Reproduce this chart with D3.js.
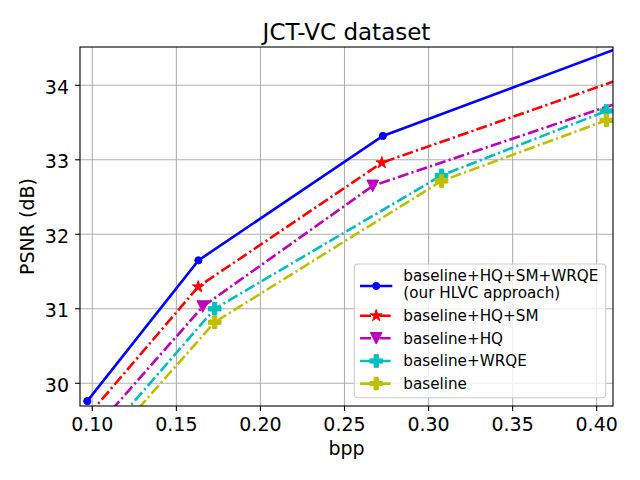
<!DOCTYPE html>
<html><head><meta charset="utf-8">
<script src="https://cdn.jsdelivr.net/npm/d3@7/dist/d3.min.js"></script>
<style>body{margin:0;background:#fff}svg{display:block;font-family:"DejaVu Sans",sans-serif}</style>
</head><body><svg id="c" width="640" height="480"></svg>
<script>
const xTicks = [0.10, 0.15, 0.20, 0.25, 0.30, 0.35, 0.40];
const yTicks = [30, 31, 32, 33, 34];
const seriesNames = ["baseline+HQ+SM+WRQE\n(our HLVC approach)", "baseline+HQ+SM", "baseline+HQ", "baseline+WRQE", "baseline"];
const seriesColors = ["#0000ff", "#ff0000", "#bf00bf", "#00bfbf", "#bfbf00"];
const seriesMarkers = ["circle", "star", "tridown", "plus", "plus"];
const bppHLVC = [0.0970, 0.1631, 0.2728, 0.425];
const psnrHLVC = [29.76, 31.65, 33.32, 34.60];
const bppHQSM = [0.098, 0.163, 0.2722, 0.420];
const psnrHQSM = [29.58, 31.295, 32.96, 34.13];
const bppHQ = [0.104, 0.1657, 0.2668, 0.415];
const psnrHQ = [29.45, 31.03, 32.65, 33.78];
const bppWRQE = [0.110, 0.1728, 0.3077, 0.4058];
const psnrWRQE = [29.37, 31.00, 32.79, 33.655];
const bppBase = [0.112, 0.1728, 0.3077, 0.4058];
const psnrBase = [29.27, 30.82, 32.715, 33.53];

const seriesX = [bppHLVC, bppHQSM, bppHQ, bppWRQE, bppBase];
const seriesY = [psnrHLVC, psnrHQSM, psnrHQ, psnrWRQE, psnrBase];

const L = 80, R = 613, T = 47, B = 406;
const svg = d3.select("#c");
const x = d3.scaleLinear().domain([0.09268, 0.4097]).range([L, R]);
const y = d3.scaleLinear().domain([29.695, 34.514]).range([B, T]);

svg.append("defs").append("clipPath").attr("id", "clip")
  .append("rect").attr("x", L).attr("y", T).attr("width", R - L).attr("height", B - T);

// grid
const g = svg.append("g");
g.selectAll(".gx").data(xTicks).join("line")
  .attr("x1", d => x(d)).attr("x2", d => x(d)).attr("y1", T).attr("y2", B)
  .attr("stroke", "#b0b0b0").attr("stroke-width", 1.1);
g.selectAll(".gy").data(yTicks).join("line")
  .attr("y1", d => y(d)).attr("y2", d => y(d)).attr("x1", L).attr("x2", R)
  .attr("stroke", "#b0b0b0").attr("stroke-width", 1.1);

function markerPath(type, s) {
  const p = d3.path();
  if (type === "circle") {
    p.arc(0, 0, s, 0, 2 * Math.PI);
  } else if (type === "star") {
    const ro = s, ri = s * 0.381966;
    for (let i = 0; i < 10; i++) {
      const r = i % 2 === 0 ? ro : ri;
      const a = -Math.PI / 2 + i * Math.PI / 5;
      const px = r * Math.cos(a), py = r * Math.sin(a);
      if (i === 0) p.moveTo(px, py); else p.lineTo(px, py);
    }
    p.closePath();
  } else if (type === "tridown") {
    p.moveTo(0, s); p.lineTo(-s, -s); p.lineTo(s, -s); p.closePath();
  } else if (type === "plus") {
    const a = s / 3;
    p.moveTo(-a, -s); p.lineTo(a, -s); p.lineTo(a, -a); p.lineTo(s, -a); p.lineTo(s, a);
    p.lineTo(a, a); p.lineTo(a, s); p.lineTo(-a, s); p.lineTo(-a, a); p.lineTo(-s, a);
    p.lineTo(-s, -a); p.lineTo(-a, -a); p.closePath();
  }
  return p.toString();
}
const markerSize = { circle: 3.6, star: 6.2, tridown: 5.8, plus: 6.3 };
const dash = "11,3.2,2.2,3.2";

const plot = svg.append("g").attr("clip-path", "url(#clip)");
const line = d3.line().x(d => x(d[0])).y(d => y(d[1]));
seriesX.forEach((xs, i) => {
  const pts = xs.map((v, j) => [v, seriesY[i][j]]);
  plot.append("path").datum(pts).attr("d", line)
    .attr("fill", "none").attr("stroke", seriesColors[i]).attr("stroke-width", 2.6)
    .attr("stroke-dasharray", i === 0 ? null : dash);
  plot.selectAll(null).data(pts).join("path")
    .attr("transform", d => `translate(${x(d[0])},${y(d[1])})`)
    .attr("d", markerPath(seriesMarkers[i], markerSize[seriesMarkers[i]]))
    .attr("fill", seriesColors[i]).attr("stroke", seriesColors[i]).attr("stroke-width", 1);
});

// spines
svg.append("rect").attr("x", L).attr("y", T).attr("width", R - L).attr("height", B - T)
  .attr("fill", "none").attr("stroke", "#000").attr("stroke-width", 1.1);

// ticks
const ax = svg.append("g");
ax.selectAll(".tx").data(xTicks).join("line")
  .attr("x1", d => x(d)).attr("x2", d => x(d)).attr("y1", B).attr("y2", B + 4.9)
  .attr("stroke", "#000").attr("stroke-width", 1.1);
ax.selectAll(".lx").data(xTicks).join("text")
  .attr("x", d => x(d)).attr("y", 430.7).attr("text-anchor", "middle")
  .attr("font-size", 19).text(d => d3.format(".2f")(d));
ax.selectAll(".ty").data(yTicks).join("line")
  .attr("y1", d => y(d)).attr("y2", d => y(d)).attr("x1", L - 4.9).attr("x2", L)
  .attr("stroke", "#000").attr("stroke-width", 1.1);
ax.selectAll(".ly").data(yTicks).join("text")
  .attr("x", 69).attr("y", d => y(d) + 8.4).attr("text-anchor", "end")
  .attr("font-size", 19).text(d => d);

svg.append("text").attr("x", (L + R) / 2).attr("y", 455).attr("text-anchor", "middle")
  .attr("font-size", 19).text("bpp");
svg.append("text").attr("transform", `translate(33.5,${(T + B) / 2}) rotate(-90)`)
  .attr("text-anchor", "middle").attr("font-size", 19).text("PSNR (dB)");
svg.append("text").attr("x", (L + R) / 2).attr("y", 39.5).attr("text-anchor", "middle")
  .attr("font-size", 23).text("JCT-VC dataset");

// legend
const lg = svg.append("g");
lg.append("rect").attr("x", 354.3).attr("y", 264).attr("width", 251.4).attr("height", 133.7)
  .attr("rx", 3.5).attr("fill", "#fff").attr("fill-opacity", 0.8)
  .attr("stroke", "#cccccc").attr("stroke-width", 1.1);
const rowHandleY = [286, 315.7, 338.3, 361, 383.6];
const rowTextY = [280.7, 321, 343.7, 366.2, 388.8];
seriesNames.forEach((name, i) => {
  lg.append("line").attr("x1", 360).attr("x2", 392.3).attr("y1", rowHandleY[i]).attr("y2", rowHandleY[i])
    .attr("stroke", seriesColors[i]).attr("stroke-width", 2.6)
    .attr("stroke-dasharray", i === 0 ? null : dash);
  lg.append("path").attr("transform", `translate(376.2,${rowHandleY[i]})`)
    .attr("d", markerPath(seriesMarkers[i], markerSize[seriesMarkers[i]]))
    .attr("fill", seriesColors[i]).attr("stroke", seriesColors[i]).attr("stroke-width", 1);
  const lines = name.split("\n");
  lines.forEach((t, k) => {
    lg.append("text").attr("x", 403.3).attr("y", rowTextY[i] + k * 17)
      .attr("font-size", 15.2).text(t);
  });
});
</script></body></html>
